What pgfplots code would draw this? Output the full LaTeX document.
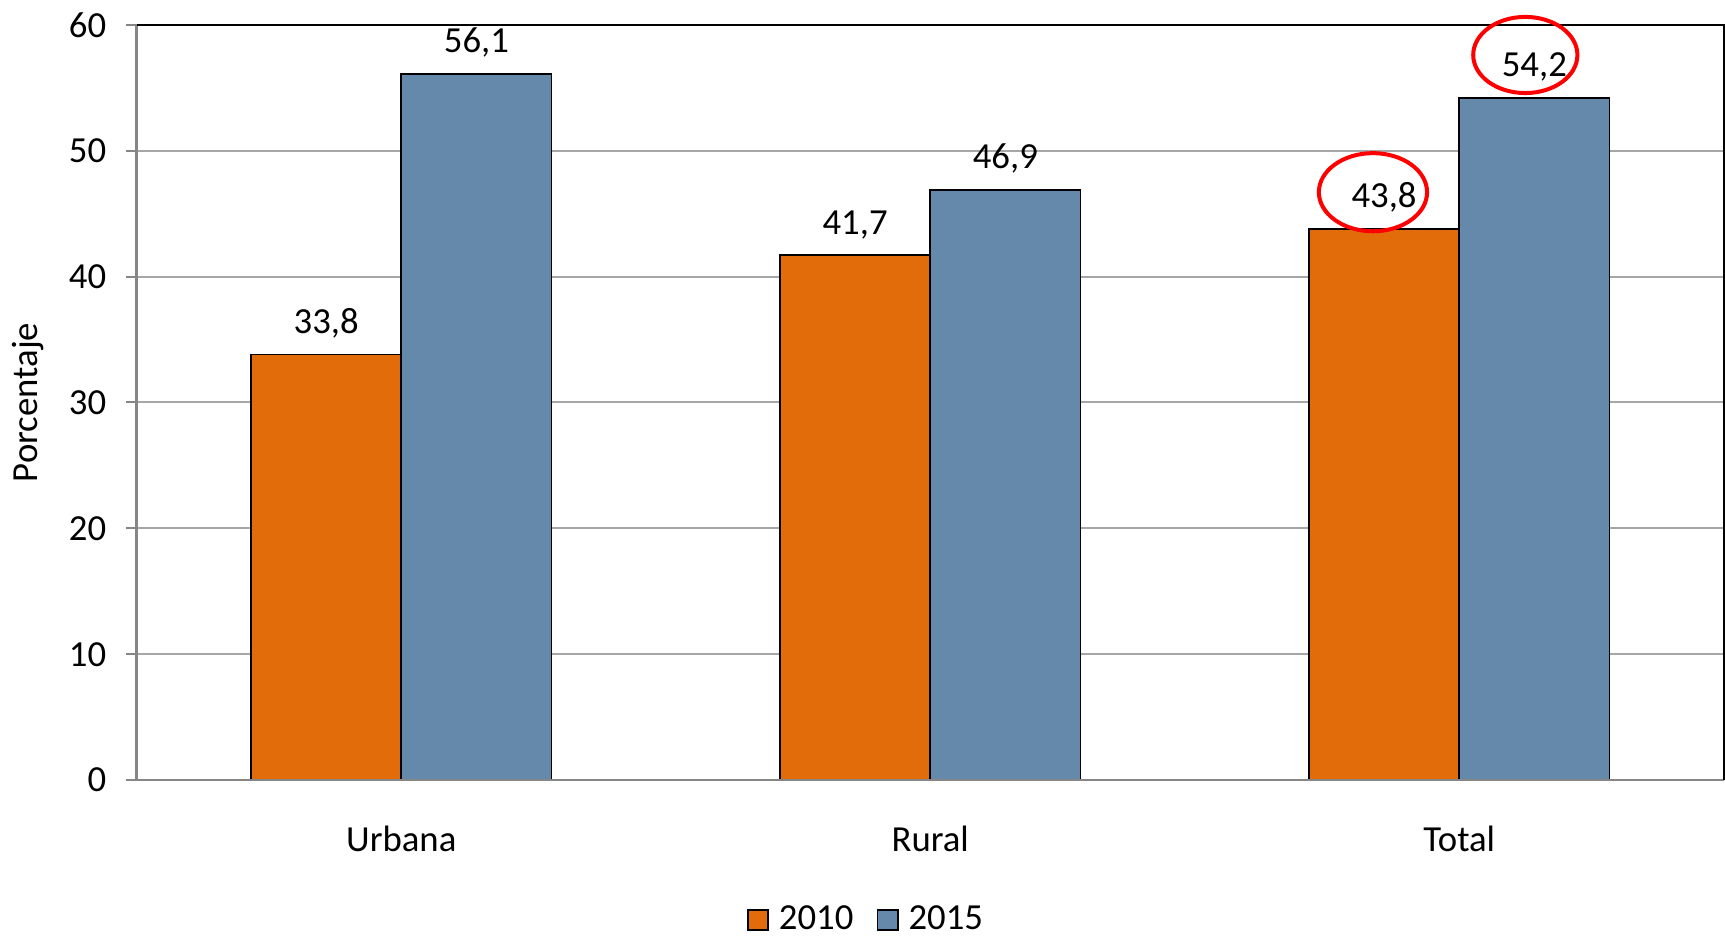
\documentclass[border=0pt]{standalone}
\usepackage{pgfplots}
\pgfplotsset{compat=1.18}
\usepackage{fontspec}
\setmainfont{Carlito}
\definecolor{or}{HTML}{E36C0A}
\definecolor{bl}{HTML}{6589AB}
\definecolor{gr}{HTML}{A6A6A6}
\definecolor{ax}{HTML}{868686}
\begin{document}
\fontsize{11}{13}\selectfont
\begin{tikzpicture}
\begin{axis}[
  scale only axis,
  clip=false,
  width=475.2pt, height=226.2pt,
  xmin=-0.5, xmax=2.5, ymin=0, ymax=60,
  ybar=0pt, bar width=45pt,
  xtick={0,1,2}, xticklabels={Urbana,Rural,Total},
  xtick style={draw=none},
  xticklabel style={yshift=-6.5pt},
  ytick={0,10,...,60},
  ytick pos=left,
  ytick style={draw=ax, line width=0.6pt},
  major tick length=3.3pt,
  tick align=outside,
  ymajorgrids, grid style={gr, line width=0.6pt},
  axis line style={draw=none},
  /pgf/number format/assume math mode=true,
  ylabel={Porcentaje},
  ylabel style={yshift=0pt},
  yticklabel style={xshift=-2pt},
  nodes near coords={\pgfmathprintnumber[use comma,fixed,fixed zerofill,precision=1,assume math mode=true]{\pgfplotspointmeta}},
  every node near coord/.append style={yshift=1pt, text=black},
  legend style={at={(0.46,-0.185)}, anchor=center, draw=none, legend columns=2, inner sep=0pt,
    nodes={inner sep=1pt},
    /tikz/every even column/.append style={column sep=6pt}},
  legend image code/.code={\draw[#1, draw=black, line width=0.5pt] (0pt,-3pt) rectangle (6pt,3pt); \path (8pt,0pt);},
]
\addplot[fill=or, draw=black, line width=0.5pt] coordinates {(0,33.8) (1,41.7) (2,43.8)};
\addplot[fill=bl, draw=black, line width=0.5pt] coordinates {(0,56.1) (1,46.9) (2,54.2)};
\legend{2010,2015}
\draw[ax, line width=0.8pt] (rel axis cs:0,0) -- (rel axis cs:1,0);
\draw[ax, line width=0.8pt] (rel axis cs:0,0) -- (rel axis cs:0,1);
\draw[black, line width=0.6pt] (rel axis cs:0,1) -- (rel axis cs:1,1) -- (rel axis cs:1,0);
\draw[red, line width=1.2pt] (axis cs:2.125,57.6) ellipse [x radius=15.6pt, y radius=11.4pt];
\draw[red, line width=1.2pt] (axis cs:1.837,46.7) ellipse [x radius=16.2pt, y radius=11.7pt];
\end{axis}
\end{tikzpicture}
\end{document}
